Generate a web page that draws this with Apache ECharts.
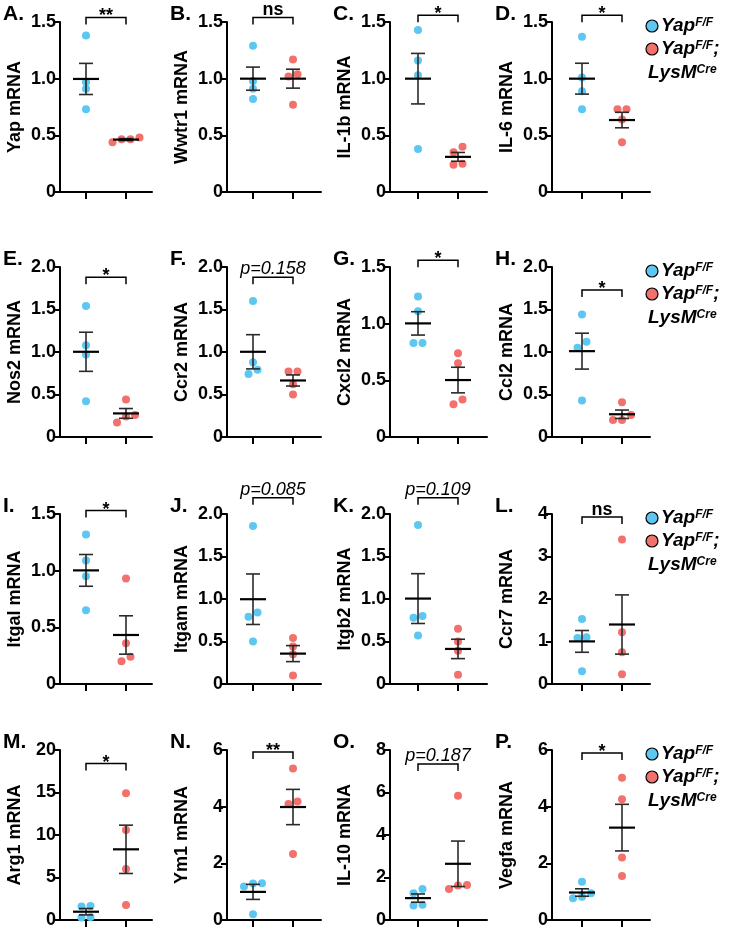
<!DOCTYPE html>
<html>
<head>
<meta charset="utf-8">
<script src="https://cdn.jsdelivr.net/npm/echarts@6/dist/echarts.min.js"></script>
<style>html,body{margin:0;padding:0;background:#fff;}#c{width:729px;height:930px;}</style>
</head>
<body>
<div id="c"></div>
<script>
// ---------- DATA ----------
const panelLetters = ['A.','B.','C.','D.','E.','F.','G.','H.','I.','J.','K.','L.','M.','N.','O.','P.'];
const genes = ['Yap','Wwtr1','IL-1b','IL-6','Nos2','Ccr2','Cxcl2','Ccl2','Itgal','Itgam','Itgb2','Ccr7','Arg1','Ym1','IL-10','Vegfa'];
const yapFF = [
  [1.38,0.97,0.91,0.73],
  [1.29,0.98,0.91,0.82],
  [1.43,1.16,1.03,0.38],
  [1.37,1.01,0.89,0.73],
  [1.54,1.08,0.97,0.42],
  [1.60,0.88,0.79,0.74],
  [1.24,1.11,0.83,0.83],
  [1.44,1.12,1.05,0.43],
  [1.32,1.09,0.95,0.65],
  [1.86,0.84,0.79,0.50],
  [1.87,0.80,0.78,0.57],
  [1.53,1.10,1.08,0.30],
  [1.65,1.60,0.35,0.30],
  [1.30,1.29,1.18,0.20],
  [1.46,1.26,0.72,0.68],
  [1.35,0.94,0.82,0.77]
];
const yapLysM = [
  [0.44,0.48,0.465,0.465],
  [1.17,1.04,1.02,0.77],
  [0.40,0.35,0.25,0.24],
  [0.73,0.73,0.64,0.44],
  [0.44,0.26,0.24,0.17],
  [0.77,0.77,0.62,0.50],
  [0.74,0.65,0.33,0.29],
  [0.41,0.26,0.20,0.20],
  [0.93,0.36,0.24,0.20],
  [0.54,0.44,0.35,0.10],
  [0.65,0.50,0.39,0.11],
  [3.40,1.22,0.75,0.23],
  [14.9,10.6,6.0,1.76],
  [5.35,4.18,4.09,2.33],
  [5.85,1.65,1.62,1.46],
  [5.02,4.26,2.21,1.55]
];
const yMax  = [1.5,1.5,1.5,1.5, 2,2,1.5,2, 1.5,2,2,4, 20,6,8,6];
const yStep = [0.5,0.5,0.5,0.5, 0.5,0.5,0.5,0.5, 0.5,0.5,0.5,1, 5,2,2,2];
const sigText  = ['**','ns','*','*','*','p=0.158','*','*','*','p=0.085','p=0.109','ns','*','**','p=0.187','*'];
const sigLevel = [1.54,1.54,1.56,1.56, 1.88,1.88,1.56,1.73, 1.53,2.19,2.19,3.93, 18.4,5.93,7.34,5.89];
const legendNames = ['Yap F/F', 'Yap F/F; LysM Cre'];

// ---------- LAYOUT ----------
const FONT = '"Liberation Sans", Arial, Helvetica, sans-serif';
const BLUE = '#5CC8F2', RED = '#F2716C';
const colLeft = [60, 227, 390, 552];
const colWidth = [92, 94, 97, 98];
const colOffset = [26, 26, 28, 30];
const rowTop = [22, 267, 514, 750];
const PH = 170, GAP = 40;

const grids = [], xAxes = [], yAxes = [], series = [], graphics = [];

function mean(a){ return a.reduce((s,v)=>s+v,0)/a.length; }
function sem(a){ const m = mean(a); const v = a.reduce((s,x)=>s+(x-m)*(x-m),0)/(a.length-1); return Math.sqrt(v/a.length); }
function swarm(vals, center, pxPerUnit){
  const idx = vals.map((v,i)=>i).sort((a,b)=>vals[a]-vals[b]);
  const clusters = []; let cur = [idx[0]];
  for (let k=1;k<idx.length;k++){
    if ((vals[idx[k]]-vals[idx[k-1]])*pxPerUnit < 6.5) cur.push(idx[k]);
    else { clusters.push(cur); cur=[idx[k]]; }
  }
  clusters.push(cur);
  const out = [];
  clusters.forEach(c => c.forEach((i,j) => out.push([center + (j-(c.length-1)/2)*9/GAP, vals[i]])));
  return out;
}

for (let i=0;i<16;i++){
  const r = Math.floor(i/4), c = i%4;
  const W = colWidth[c];
  grids.push({left: colLeft[c], top: rowTop[r], width: W, height: PH, containLabel:false});
  xAxes.push({
    gridIndex:i, type:'value', min: -colOffset[c]/GAP, max: (W-colOffset[c])/GAP,
    axisLine:{show:true, onZero:false, lineStyle:{color:'#000', width:2}},
    axisTick:{show:true, customValues:[0,1], length:7, lineStyle:{color:'#000', width:2}},
    axisLabel:{show:false}, splitLine:{show:false}
  });
  const step = yStep[i];
  yAxes.push({
    gridIndex:i, type:'value', min:0, max:yMax[i], interval:step,
    axisLine:{show:true, onZero:false, lineStyle:{color:'#000', width:2}},
    axisTick:{show:true, length:6, lineStyle:{color:'#000', width:2}},
    axisLabel:{color:'#000', fontSize:18, fontWeight:'bold', fontFamily:FONT, margin:4,
      formatter: v => step < 1 ? (v===0 ? '0' : v.toFixed(1)) : String(v)},
    splitLine:{show:false},
    name: genes[i] + ' mRNA', nameLocation:'middle', nameRotate:90, nameGap:36,
    nameTextStyle:{color:'#000', fontSize:18, fontWeight:'bold', fontFamily:FONT}
  });
  const ppu = PH / yMax[i];
  [[yapFF[i], BLUE, 0, legendNames[0]], [yapLysM[i], RED, 1, legendNames[1]]].forEach(([vals, col, g, nm]) => {
    series.push({
      type:'scatter', name:nm, xAxisIndex:i, yAxisIndex:i, symbolSize:8, z:2,
      itemStyle:{color:col, opacity:1}, data: swarm(vals, g, ppu), silent:true
    });
  });
  // mean +/- SEM
  series.push({
    type:'custom', xAxisIndex:i, yAxisIndex:i, z:5, silent:true,
    encode:{x:0, y:1},
    data: [[0, mean(yapFF[i]), sem(yapFF[i])], [1, mean(yapLysM[i]), sem(yapLysM[i])]],
    renderItem: (params, api) => {
      const x = api.value(0), m = api.value(1), s = api.value(2);
      const cpt = api.coord([x, m]), hi = api.coord([x, m+s]), lo = api.coord([x, m-s]);
      const eb = {stroke:'#2a2a2a', lineWidth:1.6};
      return {type:'group', children:[
        {type:'line', shape:{x1:cpt[0], y1:hi[1], x2:cpt[0], y2:lo[1]}, style:eb},
        {type:'line', shape:{x1:cpt[0]-7, y1:hi[1], x2:cpt[0]+7, y2:hi[1]}, style:eb},
        {type:'line', shape:{x1:cpt[0]-7, y1:lo[1], x2:cpt[0]+7, y2:lo[1]}, style:eb},
        {type:'line', shape:{x1:cpt[0]-13, y1:cpt[1], x2:cpt[0]+13, y2:cpt[1]}, style:{stroke:'#000', lineWidth:2.2}}
      ]};
    }
  });
  // significance bracket
  const txt = sigText[i];
  series.push({
    type:'custom', xAxisIndex:i, yAxisIndex:i, z:5, silent:true, clip:false,
    encode:{x:0, y:1},
    data: [[0, sigLevel[i], 1]],
    renderItem: (params, api) => {
      const a = api.coord([api.value(0), api.value(1)]);
      const b = api.coord([api.value(2), api.value(1)]);
      const isP = txt.indexOf('p=') === 0;
      const isStar = txt.indexOf('*') === 0;
      return {type:'group', children:[
        {type:'polyline', shape:{points:[[a[0],a[1]+7],[a[0],a[1]],[b[0],b[1]],[b[0],b[1]+7]]},
          style:{stroke:'#000', lineWidth:1.5, fill:null}},
        {type:'text', style:{
          text: txt, x:(a[0]+b[0])/2, y: isStar ? a[1]+8 : (isP ? a[1]+1 : a[1]+2),
          align:'center', verticalAlign:'bottom', textAlign:'center', textVerticalAlign:'bottom',
          fill:'#000',
          font: isP ? ('italic 18px ' + FONT) : ('bold 18px ' + FONT)
        }}
      ]};
    }
  });
  graphics.push({type:'text', left: colLeft[c]-57, top: rowTop[r]-18,
    style:{text: panelLetters[i], font:'bold 21px ' + FONT, fill:'#000'}});
}

// legends (one per row)
const richL = {
  m:{fontSize:19, fontWeight:'bold', fontStyle:'italic', fontFamily:FONT, color:'#000'},
  s:{fontSize:12, fontWeight:'bold', fontStyle:'italic', fontFamily:FONT, color:'#000', verticalAlign:'top'}
};
rowTop.forEach(t => {
  graphics.push({type:'circle', shape:{cx:652, cy:t+4, r:6}, style:{fill:BLUE, stroke:'#000', lineWidth:1.2}});
  graphics.push({type:'circle', shape:{cx:652, cy:t+27, r:6}, style:{fill:RED, stroke:'#000', lineWidth:1.2}});
  graphics.push({type:'text', x:661, y:t+4, style:{text:'{m|Yap}{s|F/F}', rich:richL, verticalAlign:'middle'}});
  graphics.push({type:'text', x:661, y:t+27, style:{text:'{m|Yap}{s|F/F}{m|;}', rich:richL, verticalAlign:'middle'}});
  graphics.push({type:'text', x:648, y:t+51, style:{text:'{m|LysM}{s|Cre}', rich:richL, verticalAlign:'middle'}});
});

const chart = echarts.init(document.getElementById('c'), null, {renderer:'canvas', width:729, height:930});
chart.setOption({
  animation:false, backgroundColor:'#fff',
  grid: grids, xAxis: xAxes, yAxis: yAxes, series: series, graphic: graphics
});
</script>
</body>
</html>
